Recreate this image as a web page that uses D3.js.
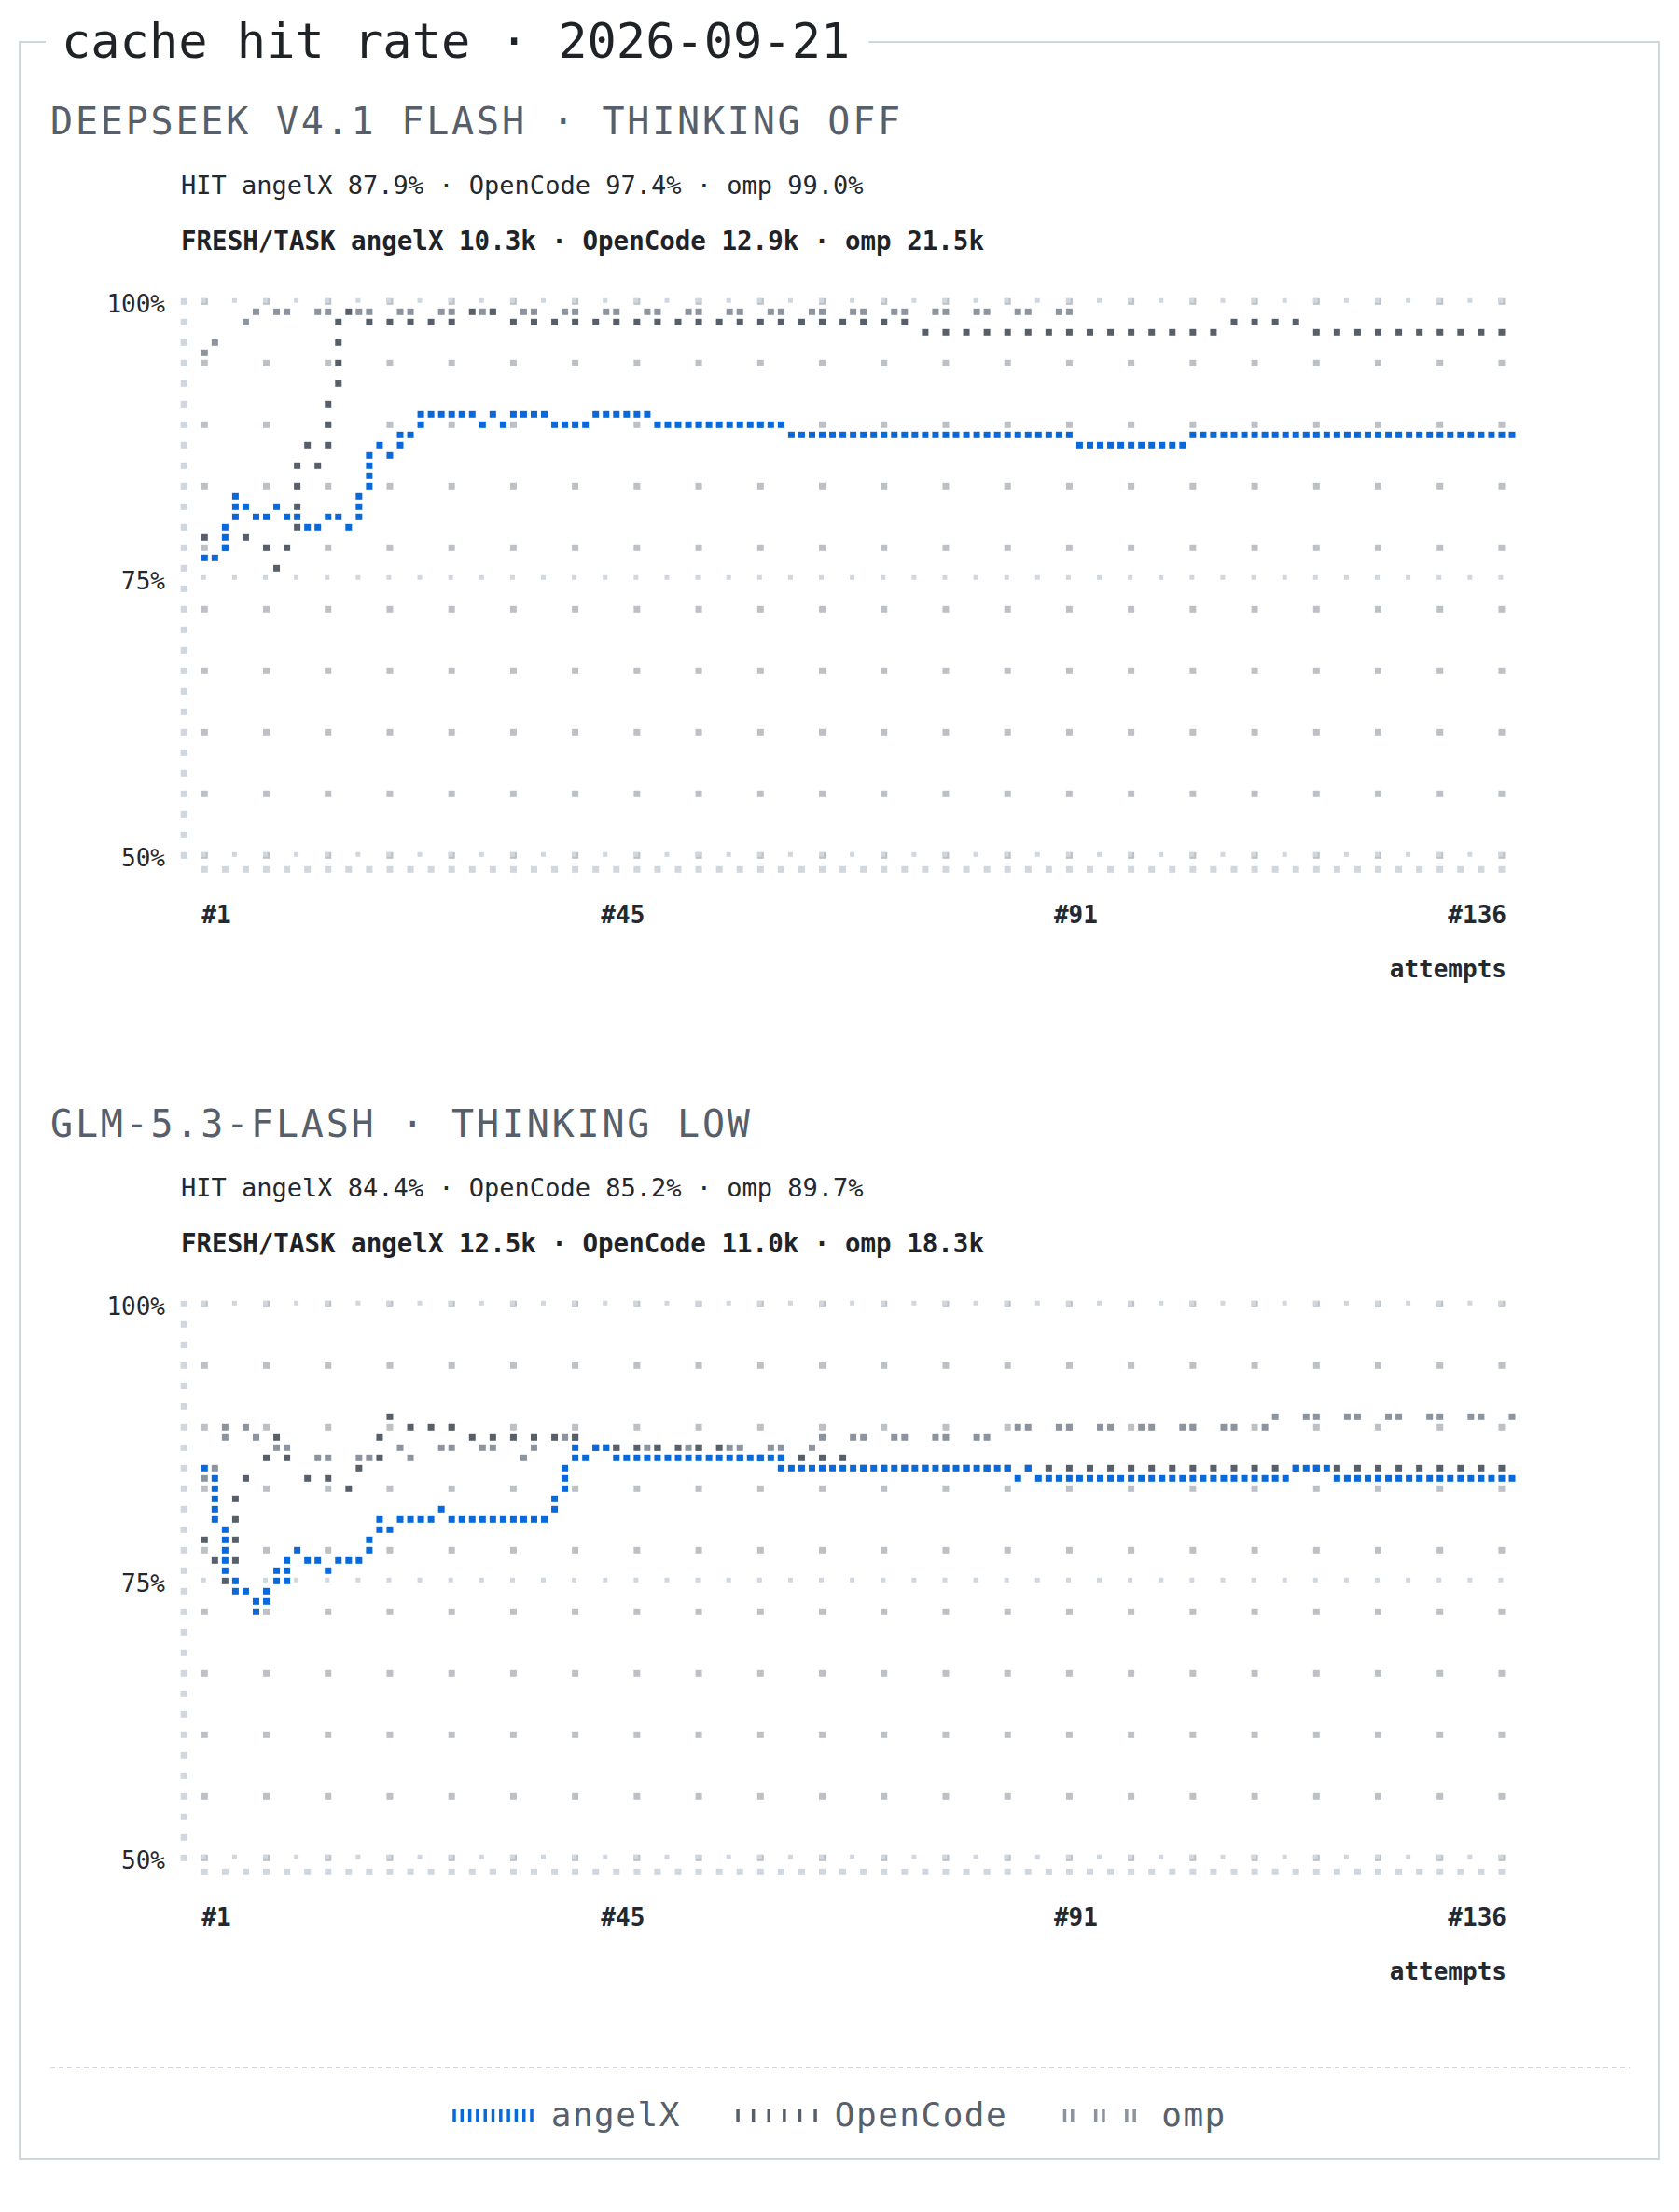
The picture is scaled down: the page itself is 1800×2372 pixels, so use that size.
<!DOCTYPE html>
<html lang="en">
  <head>
    <meta charset="UTF-8" />
    <title>cache hit rate</title>
    <style>
      body {
        margin: 0;
        background: #fff;
      }
      svg {
        display: block;
      }
      text {
        font-family: "DejaVu Sans Mono", "Liberation Mono", monospace;
      }
    </style>
    <script src="https://cdn.jsdelivr.net/npm/d3@7"></script>
  </head>
  <body>
    <div class="container"></div>
    <script>
      const chartTitle = "cache hit rate · 2026-09-21";
      const seriesNames = ["angelX", "OpenCode", "omp"];
      const panelTitles = ["DEEPSEEK V4.1 FLASH · THINKING OFF", "GLM-5.3-FLASH · THINKING LOW"];
      const hitRates = [[87.9, 97.4, 99.0], [84.4, 85.2, 89.7]];
      const freshPerTask = [["10.3k", "12.9k", "21.5k"], ["12.5k", "11.0k", "18.3k"]];
      const yTicks = [100, 75, 50];
      const xTicks = [1, 45, 91, 136];
      const maxAttempt = 136;

      // cumulative hit rate (%) per attempt
      const deepseekAngelX = [
        76.9, 77.0, 79.6, 82.4, 81.5, 80.6, 80.4, 81.3, 80.7, 80.5,
        80.3, 79.7, 79.5, 80.2, 80.4, 79.8, 82.3, 86.0, 87.1, 86.3,
        87.9, 88.1, 89.6, 89.8, 89.9, 90.0, 89.9, 89.7, 89.5, 89.1,
        89.4, 89.0, 89.4, 89.6, 89.7, 89.5, 89.2, 89.0, 88.9, 89.1,
        89.4, 89.6, 89.8, 89.7, 89.6, 89.5, 89.4, 89.2, 89.1, 89.1,
        89.0, 88.9, 88.9, 88.8, 88.8, 88.7, 88.7, 88.6, 88.6, 88.5,
        88.5, 88.3, 88.3, 88.2, 88.2, 88.2, 88.1, 88.1, 88.0, 88.0,
        88.1, 88.0, 88.0, 87.9, 87.9, 87.9, 87.9, 87.8, 87.8, 87.9,
        87.8, 87.8, 87.7, 87.7, 87.8, 87.7, 87.7, 87.6, 87.6, 87.6,
        87.3, 87.2, 87.2, 87.1, 87.1, 87.0, 87.1, 87.1, 87.2, 87.2,
        87.3, 87.3, 87.6, 87.7, 87.7, 87.8, 87.8, 87.8, 87.9, 87.9,
        87.9, 87.9, 88.0, 88.0, 88.0, 88.0, 88.1, 88.0, 88.0, 88.0,
        88.0, 87.9, 88.0, 87.9, 87.9, 87.9, 88.0, 87.9, 87.9, 87.9,
        87.9, 87.9, 87.9, 87.9, 87.9, 87.9
      ];
      const deepseekOpenCode = [
        78.7, 78.6, 77.9, 77.8, 78.5, 77.9, 77.7, 76.0, 78.6, 78.8,
        86.2, 87.1, 85.3, 91.7, 99.0, 99.1, 98.9, 98.3, 98.2, 98.1,
        98.2, 98.3, 98.2, 98.1, 98.2, 98.3, 98.4, 98.5, 98.7, 98.8,
        98.8, 98.7, 98.5, 98.4, 98.4, 98.3, 98.3, 98.2, 98.2, 98.2,
        98.1, 98.1, 98.1, 98.1, 98.0, 98.0, 98.0, 97.9, 97.9, 98.0,
        98.0, 97.9, 97.9, 97.9, 97.8, 97.8, 97.9, 97.9, 97.8, 97.8,
        97.8, 97.8, 97.8, 97.8, 97.8, 97.8, 97.7, 97.7, 97.7, 97.7,
        97.8, 97.8, 97.7, 97.7, 97.6, 97.6, 97.5, 97.5, 97.5, 97.4,
        97.4, 97.4, 97.4, 97.3, 97.3, 97.3, 97.3, 97.3, 97.3, 97.3,
        97.2, 97.2, 97.3, 97.3, 97.4, 97.4, 97.4, 97.5, 97.5, 97.5,
        97.5, 97.6, 97.6, 97.6, 97.6, 97.6, 97.7, 97.7, 97.8, 97.7,
        97.7, 97.7, 97.7, 97.7, 97.6, 97.6, 97.6, 97.5, 97.5, 97.5,
        97.5, 97.5, 97.4, 97.4, 97.4, 97.4, 97.4, 97.4, 97.4, 97.4,
        97.4, 97.4, 97.4, 97.4, 97.4, 97.4
      ];
      const deepseekOmp = [
        95.4, 96.3, 96.5, 97.2, 98.1, 99.6, 100.0, 99.4, 99.3, 99.3,
        99.3, 99.3, 99.2, 99.2, 99.2, 99.2, 99.1, 99.1, 99.1, 99.1,
        99.1, 99.1, 99.1, 99.1, 99.1, 99.1, 99.1, 99.1, 99.0, 99.0,
        99.0, 99.0, 99.0, 99.0, 99.0, 99.0, 99.0, 99.0, 99.0, 99.0,
        99.0, 99.0, 99.0, 99.1, 99.1, 99.1, 99.1, 99.1, 99.0, 99.0,
        99.0, 99.0, 99.0, 99.0, 99.0, 99.0, 99.0, 99.0, 99.0, 99.0,
        99.0, 99.0, 99.0, 99.0, 99.0, 99.0, 99.0, 99.0, 99.0, 99.0,
        99.0, 99.0, 99.0, 99.0, 99.1, 99.1, 99.0, 99.0, 99.0, 99.0,
        99.0, 99.0, 99.0, 99.0, 99.0, 99.0, 99.0, 99.0, 99.0, 99.0,
        99.0, 99.0
      ];
      const glmAngelX = [
        85.2, 80.6, 75.9, 74.1, 74.0, 72.2, 74.1, 75.9, 75.0, 76.8,
        77.8, 76.9, 77.0, 76.0, 76.8, 77.0, 77.1, 78.7, 80.5, 79.7,
        80.4, 80.6, 80.6, 80.7, 81.4, 80.9, 80.8, 80.7, 80.7, 80.6,
        80.6, 80.6, 80.6, 80.5, 80.6, 80.7, 82.3, 85.1, 87.0, 86.3,
        86.9, 86.8, 86.5, 86.4, 86.4, 86.3, 86.3, 86.2, 86.2, 86.1,
        86.1, 86.0, 86.0, 85.9, 85.9, 85.8, 85.8, 85.8, 85.7, 85.7,
        85.6, 85.5, 85.5, 85.4, 85.4, 85.3, 85.3, 85.2, 85.2, 85.2,
        85.1, 85.1, 85.1, 85.0, 85.0, 85.0, 85.0, 84.9, 84.9, 84.9,
        84.9, 84.8, 84.8, 84.8, 84.6, 84.8, 84.6, 84.6, 84.5, 84.5,
        84.5, 84.4, 84.4, 84.4, 84.4, 84.3, 84.3, 84.3, 84.3, 84.3,
        84.3, 84.3, 84.2, 84.2, 84.2, 84.2, 84.2, 84.2, 84.2, 84.2,
        84.2, 84.3, 84.4, 84.8, 84.8, 84.8, 84.8, 84.6, 84.6, 84.5,
        84.5, 84.5, 84.5, 84.4, 84.4, 84.4, 84.4, 84.4, 84.4, 84.4,
        84.4, 84.4, 84.4, 84.4, 84.4, 84.4
      ];
      const glmOpenCode = [
        78.7, 76.9, 75.0, 82.4, 84.3, 85.2, 86.1, 88.0, 86.1, 85.9,
        85.2, 84.3, 84.4, 84.3, 83.4, 83.3, 85.0, 85.2, 88.9, 89.8,
        89.1, 89.0, 89.0, 88.9, 88.9, 88.8, 88.7, 88.3, 88.2, 88.1,
        88.1, 88.0, 88.0, 87.9, 87.9, 87.8, 87.8, 87.7, 87.6, 87.4,
        87.3, 87.2, 87.1, 87.1, 87.0, 87.0, 86.9, 86.9, 86.8, 86.8,
        86.8, 86.7, 86.7, 86.7, 86.5, 86.4, 86.4, 86.3, 86.3, 86.2,
        86.2, 86.1, 86.0, 86.0, 85.9, 85.9, 85.8, 85.7, 85.6, 85.6,
        85.5, 85.5, 85.5, 85.5, 85.4, 85.4, 85.4, 85.4, 85.4, 85.3,
        85.3, 85.3, 85.3, 85.3, 85.3, 85.3, 85.3, 85.3, 85.3, 85.3,
        85.3, 85.3, 85.3, 85.3, 85.2, 85.2, 85.2, 85.2, 85.2, 85.2,
        85.2, 85.2, 85.2, 85.2, 85.2, 85.2, 85.2, 85.2, 85.2, 85.2,
        85.2, 85.2, 85.2, 85.2, 85.2, 85.2, 85.2, 85.2, 85.2, 85.2,
        85.2, 85.2, 85.2, 85.2, 85.2, 85.2, 85.2, 85.2, 85.2, 85.2,
        85.2, 85.2, 85.2, 85.2, 85.2, 85.2
      ];
      const glmOmp = [
        84.3, 86.1, 89.8, 89.6, 88.9, 87.1, 87.0, 86.9, 86.8, 86.7,
        86.5, 86.4, 86.3, 86.3, 86.2, 86.2, 86.3, 86.4, 86.5, 86.7,
        86.8, 86.5, 86.6, 86.7, 86.8, 86.9, 86.9, 86.8, 86.8, 86.7,
        86.6, 86.5, 86.5, 86.5, 86.7, 86.9, 87.6, 87.7, 87.6, 87.4,
        87.3, 87.2, 87.2, 87.1, 87.1, 87.1, 87.1, 87.1, 87.2, 87.2,
        87.2, 87.2, 87.2, 87.2, 87.3, 87.3, 87.3, 87.3, 87.3, 87.3,
        87.4, 87.4, 87.4, 87.4, 87.6, 87.6, 87.7, 87.7, 87.7, 87.8,
        87.8, 87.8, 87.9, 87.9, 87.9, 88.0, 88.0, 88.0, 88.1, 88.1,
        88.2, 88.2, 88.3, 88.5, 88.5, 88.6, 88.6, 88.6, 88.7, 88.7,
        88.7, 88.8, 88.8, 88.8, 88.8, 88.9, 88.9, 88.9, 88.9, 89.0,
        89.0, 89.0, 89.0, 89.1, 89.1, 89.1, 89.1, 89.2, 89.2, 89.2,
        89.3, 89.4, 89.4, 89.5, 89.5, 89.5, 89.5, 89.6, 89.6, 89.6,
        89.6, 89.6, 89.6, 89.7, 89.7, 89.7, 89.7, 89.7, 89.7, 89.7,
        89.7, 89.7, 89.7, 89.7, 89.7, 89.7
      ];

      const panelSeries = [
        [deepseekAngelX, deepseekOpenCode, deepseekOmp],
        [glmAngelX, glmOpenCode, glmOmp]
      ];

      const width = 1800,
        height = 2372;
      const colors = ["#0969da", "#57606a", "#8c959f"];
      // which cells along a series' path are lit
      const dashOn = [
        (k) => true,
        (k) => k % 2 === 0,
        (k) => k % 4 < 2
      ];

      const cellW = 11.037,
        cellH = 11,
        nCols = 127,
        nRows = 54,
        dot = 7;
      const plotLeft = 219.3,
        plotRight = plotLeft + nCols * cellW;
      const panelTops = [323.3, 1398.3];

      const svg = d3
        .select(".container")
        .append("svg")
        .attr("width", width)
        .attr("height", height);

      // frame with title in the top edge
      const title = svg
        .append("text")
        .attr("x", 66)
        .attr("y", 62)
        .attr("font-size", 52)
        .attr("fill", "#1f2328")
        .text(chartTitle);
      const titleEnd = 66 + title.node().getComputedTextLength() + 20;
      svg
        .append("path")
        .attr("d", `M49,45H21V2315H1779V45H${titleEnd}`)
        .attr("fill", "none")
        .attr("stroke", "#d0d7de")
        .attr("stroke-width", 2);

      const xScale = d3.scaleLinear().domain([1, maxAttempt]).range([plotLeft, plotRight]);
      const colOf = (a) => Math.round((xScale(a) - plotLeft) / cellW);

      function cellPath(values, rowOf) {
        const cells = [];
        let prev = null;
        values.forEach(function (v, i) {
          const c = colOf(i + 1);
          const r = rowOf(v);
          if (!prev) {
            cells.push([c, r]);
          } else {
            for (let cc = prev[0] + 1; cc < c; cc++) cells.push([cc, prev[1]]);
            if (r === prev[1]) {
              if (c !== prev[0]) cells.push([c, r]);
            } else {
              const s = Math.sign(r - prev[1]);
              for (let rr = prev[1] + s; ; rr += s) {
                cells.push([c, rr]);
                if (rr === r) break;
              }
            }
          }
          prev = [c, r];
        });
        return cells;
      }

      panelTitles.forEach(function (panelTitle, p) {
        const top = panelTops[p];
        const g = svg.append("g");
        const yScale = d3
          .scaleLinear()
          .domain([50, 100])
          .range([top + nRows * cellH, top]);
        const rowOf = (v) => Math.round((yScale(v) - top) / cellH);
        const cx = (c) => plotLeft + c * cellW;
        const cy = (r) => top + r * cellH;

        g.append("text")
          .attr("x", 54)
          .attr("y", top - 179)
          .attr("font-size", 40)
          .attr("letter-spacing", 2.8)
          .attr("fill", "#57606a")
          .text(panelTitle);

        g.append("text")
          .attr("x", 194)
          .attr("y", top - 115)
          .attr("font-size", 27)
          .attr("fill", "#24292f")
          .text(
            "HIT " +
              seriesNames.map((s, i) => s + " " + hitRates[p][i].toFixed(1) + "%").join(" · ")
          );

        g.append("text")
          .attr("x", 194)
          .attr("y", top - 55)
          .attr("font-size", 27.5)
          .attr("font-weight", "bold")
          .attr("fill", "#1f2328")
          .text(
            "FRESH/TASK " + seriesNames.map((s, i) => s + " " + freshPerTask[p][i]).join(" · ")
          );

        // background grid dots
        const gridCells = [];
        for (let r = 0; r <= nRows; r += 6)
          for (let c = 0; c <= nCols; c += 6) gridCells.push([c, r]);
        g.selectAll(".grid")
          .data(gridCells)
          .enter()
          .append("rect")
          .attr("x", (d) => cx(d[0]) - dot / 2)
          .attr("y", (d) => cy(d[1]) - dot / 2)
          .attr("width", dot)
          .attr("height", dot)
          .attr("fill", "#bdc0c4");

        // rows at the y ticks
        const refCells = [];
        yTicks.forEach(function (t) {
          for (let c = 0; c <= nCols; c += 3) refCells.push([c, rowOf(t)]);
        });
        g.selectAll(".ref")
          .data(refCells)
          .enter()
          .append("rect")
          .attr("x", (d) => cx(d[0]) - 3.5)
          .attr("y", (d) => cy(d[1]) - 3.5)
          .attr("width", 5)
          .attr("height", 5)
          .attr("fill", "#d0d7de");

        // y axis column
        g.selectAll(".yaxis")
          .data(d3.range(0, nRows + 1, 2))
          .enter()
          .append("rect")
          .attr("x", cx(-2) - dot / 2)
          .attr("y", (r) => cy(r) - dot / 2)
          .attr("width", dot)
          .attr("height", dot)
          .attr("fill", "#d0d7de");

        // x axis row
        g.selectAll(".xaxis")
          .data(d3.range(0, nCols, 2))
          .enter()
          .append("rect")
          .attr("x", (c) => cx(c) - dot / 2)
          .attr("y", cy(nRows) + 15 - dot / 2)
          .attr("width", dot)
          .attr("height", dot)
          .attr("fill", "#d0d7de");

        g.selectAll(".ylabel")
          .data(yTicks)
          .enter()
          .append("text")
          .attr("x", 177)
          .attr("y", (t) => cy(rowOf(t)) + 12)
          .attr("text-anchor", "end")
          .attr("font-size", 26)
          .attr("fill", "#24292f")
          .text((t) => t + "%");

        g.selectAll(".xlabel")
          .data(xTicks)
          .enter()
          .append("text")
          .attr("x", function (a, i) {
            if (i === 0) return cx(colOf(a)) - 3;
            if (i === xTicks.length - 1) return cx(colOf(a)) - 6;
            return cx(colOf(a)) - 4;
          })
          .attr("y", cy(nRows) + 73)
          .attr("text-anchor", (a, i) =>
            i === 0 ? "start" : i === xTicks.length - 1 ? "end" : "middle"
          )
          .attr("font-size", 26)
          .attr("font-weight", "bold")
          .attr("fill", "#24292f")
          .text((a) => "#" + a);

        g.append("text")
          .attr("x", plotRight - 6)
          .attr("y", cy(nRows) + 131)
          .attr("text-anchor", "end")
          .attr("font-size", 26)
          .attr("font-weight", "bold")
          .attr("fill", "#24292f")
          .text("attempts");

        // series, drawn back to front
        [2, 1, 0].forEach(function (s) {
          const cells = cellPath(panelSeries[p][s], rowOf).filter((d, k) => dashOn[s](k));
          g.append("g")
            .selectAll("rect")
            .data(cells)
            .enter()
            .append("rect")
            .attr("x", (d) => cx(d[0]) - dot / 2)
            .attr("y", (d) => cy(d[1]) - dot / 2)
            .attr("width", dot)
            .attr("height", dot)
            .attr("fill", colors[s]);
        });
      });

      // legend
      svg
        .append("line")
        .attr("x1", 54)
        .attr("x2", 1747)
        .attr("y1", 2217)
        .attr("y2", 2217)
        .attr("stroke", "#d0d7de")
        .attr("stroke-width", 2)
        .attr("stroke-dasharray", "5,4");

      const legend = svg.append("g");
      const slot = 8.3,
        textOffset = 105.5,
        itemGap = 59.5;
      const items = seriesNames.map(function (name, i) {
        const item = legend.append("g");
        item
          .selectAll("rect")
          .data(d3.range(11).filter((k) => dashOn[i](k)))
          .enter()
          .append("rect")
          .attr("x", (k) => k * slot)
          .attr("y", 2262)
          .attr("width", 3.5)
          .attr("height", 13)
          .attr("fill", colors[i]);
        const t = item
          .append("text")
          .attr("x", textOffset)
          .attr("y", 2280)
          .attr("font-size", 36)
          .attr("letter-spacing", 1.5)
          .attr("fill", "#57606a")
          .text(name);
        return { item: item, w: textOffset + t.node().getComputedTextLength() };
      });
      const total = d3.sum(items, (d) => d.w) + itemGap * (items.length - 1);
      let lx = width / 2 - total / 2;
      items.forEach(function (d) {
        d.item.attr("transform", "translate(" + lx + ",0)");
        lx += d.w + itemGap;
      });
    </script>
  </body>
</html>
